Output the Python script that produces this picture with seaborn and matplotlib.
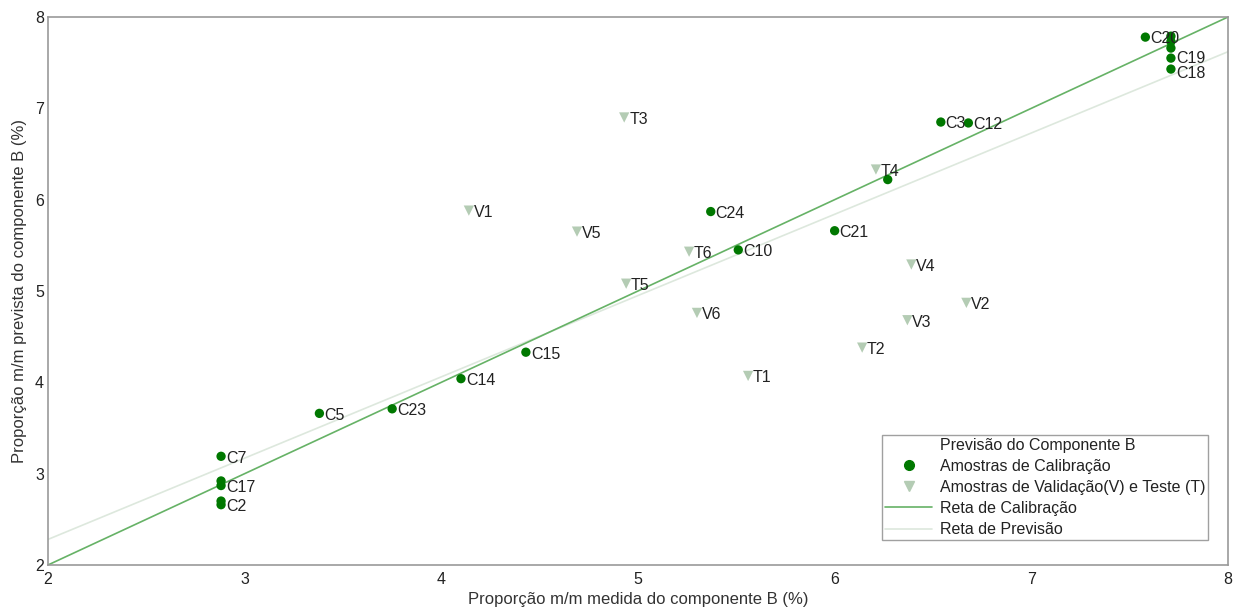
import matplotlib
matplotlib.use("Agg")
import matplotlib.pyplot as plt
import seaborn as sns
import pandas as pd
from matplotlib.lines import Line2D

# Calibration samples (measured, predicted, label)
cal_x = [7.58, 7.71, 7.71, 7.71, 7.71, 7.71, 6.54, 6.68, 6.27, 6.00, 5.37, 5.51,
         4.43, 4.10, 3.75, 3.38, 2.88, 2.88, 2.88, 2.88, 2.88]
cal_y = [7.78, 7.79, 7.73, 7.66, 7.55, 7.43, 6.85, 6.84, 6.22, 5.66, 5.87, 5.45,
         4.33, 4.04, 3.71, 3.66, 3.19, 2.92, 2.87, 2.70, 2.66]
cal_lab = ["C20", "", "", "", "C19", "C18", "C3", "C12", "", "C21", "C24", "C10",
           "C15", "C14", "C23", "C5", "C7", "", "C17", "", "C2"]

# Validation (V) and test (T) samples
val_x = [4.93, 6.21, 4.14, 4.69, 5.26, 4.94, 5.30, 5.56, 6.39, 6.67, 6.37, 6.14]
val_y = [6.90, 6.33, 5.88, 5.65, 5.43, 5.08, 4.76, 4.07, 5.29, 4.87, 4.68, 4.38]
val_lab = ["T3", "T4", "V1", "V5", "T6", "T5", "V6", "T1", "V4", "V2", "V3", "T2"]

# Lines
line_x = [2, 8]
cal_line_y = [2, 8]
pred_line_y = [2.28, 7.62]

sns.set_style("white")
plt.rcParams['font.family'] = ['Liberation Sans', 'DejaVu Sans']

fig = plt.figure(figsize=(12.34, 6.10), dpi=100)
ax = fig.add_axes([0.0389, 0.0738, 0.9562, 0.8983])

C_DOT = "#007800"
C_TRI = "#b4ccb4"
C_CAL = "#66b266"
C_PRED = "#dde8dd"

sns.lineplot(x=line_x, y=pred_line_y, ax=ax, color=C_PRED, lw=1.2, zorder=1)
sns.lineplot(x=line_x, y=cal_line_y, ax=ax, color=C_CAL, lw=1.2, zorder=1)

df_c = pd.DataFrame({"x": cal_x, "y": cal_y})
df_v = pd.DataFrame({"x": val_x, "y": val_y})
sns.scatterplot(data=df_v, x="x", y="y", ax=ax, marker="v", color=C_TRI, s=55,
                edgecolor="none", zorder=2)
sns.scatterplot(data=df_c, x="x", y="y", ax=ax, marker="o", color=C_DOT, s=45,
                edgecolor="none", zorder=3)

nudge = {"C19": 0.015, "C18": -0.03}
for x, y, t in list(zip(cal_x, cal_y, cal_lab)) + list(zip(val_x, val_y, val_lab)):
    if t:
        ax.text(x + 0.025, y - 0.02 + nudge.get(t, 0), t, ha="left", va="center",
                fontsize=11.5, color="#222222", zorder=4)

ax.set_xlim(2, 8)
ax.set_ylim(2, 8)
ax.set_xticks([2, 3, 4, 5, 6, 7, 8])
ax.set_yticks([2, 3, 4, 5, 6, 7, 8])
ax.tick_params(direction="in", length=5, color="#888888", labelsize=11.5,
               labelcolor="#222222")
ax.tick_params(axis="x", pad=5)
ax.tick_params(axis="y", pad=3)
for s in ax.spines.values():
    s.set_color("#999999")
    s.set_linewidth(1.2)

ax.set_xlabel("Proporção m/m medida do componente B (%)", fontsize=12,
              color="#333333", labelpad=4)
ax.set_ylabel("Proporção m/m prevista do componente B (%)", fontsize=12,
              color="#333333", labelpad=6)

handles = [
    Line2D([], [], linestyle="none", marker=None),
    Line2D([], [], linestyle="none", marker="o", color=C_DOT, markersize=7),
    Line2D([], [], linestyle="none", marker="v", color=C_TRI, markersize=7),
    Line2D([], [], color=C_CAL, lw=1.2),
    Line2D([], [], color=C_PRED, lw=1.2),
]
labels = ["Previsão do Componente B", "Amostras de Calibração",
          "Amostras de Validação(V) e Teste (T)", "Reta de Calibração",
          "Reta de Previsão"]
leg = ax.legend(handles, labels, loc="lower right", bbox_to_anchor=(0.9835, 0.045),
                fontsize=11.5, frameon=True, fancybox=False, handlelength=2.9,
                handletextpad=0.5, borderpad=0.2, borderaxespad=0,
                labelspacing=0.38)
leg.get_frame().set_edgecolor("#888888")
leg.get_frame().set_linewidth(1.0)
for t in leg.get_texts():
    t.set_color("#222222")

fig.savefig("out.png", dpi=100)
